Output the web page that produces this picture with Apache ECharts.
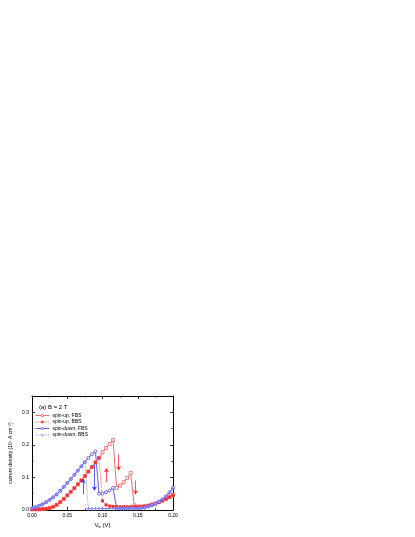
<!DOCTYPE html>
<html>
<head>
<meta charset="utf-8">
<script src="https://cdn.jsdelivr.net/npm/echarts@6/dist/echarts.min.js"></script>
<style>
  html, body { margin: 0; padding: 0; background: #fff; }
  #chart { width: 415px; height: 537px; }
</style>
</head>
<body>
<div id="chart"></div>
<script>
// bias voltage (V)
var xs = [0, 0.005, 0.01, 0.015, 0.02, 0.025, 0.03, 0.035, 0.04, 0.045,
          0.05, 0.055, 0.06, 0.065, 0.07, 0.075, 0.08, 0.085, 0.09, 0.095,
          0.1, 0.105, 0.11, 0.115, 0.12, 0.125, 0.13, 0.135, 0.14, 0.145,
          0.15, 0.155, 0.16, 0.165, 0.17, 0.175, 0.18, 0.185, 0.19, 0.195, 0.2];

// current density (10^7 A cm^-2)
var upFBS = [0.002, 0.002, 0.002, 0.003, 0.004, 0.006, 0.010, 0.016, 0.024, 0.034,
             0.045, 0.056, 0.067, 0.079, 0.091, 0.104, 0.118, 0.132, 0.146, 0.160,
             0.177, 0.190, 0.203, 0.215, 0.068, 0.075, 0.085, 0.098, 0.114, 0.014,
             0.011, 0.011, 0.012, 0.014, 0.017, 0.020, 0.024, 0.029, 0.034, 0.040, 0.047];
var upBBS = [0.002, 0.002, 0.002, 0.003, 0.004, 0.006, 0.010, 0.016, 0.024, 0.034,
             0.045, 0.056, 0.067, 0.079, 0.091, 0.104, 0.118, 0.132, 0.146, 0.160,
             0.028, 0.016, 0.012, 0.011, 0.010, 0.010, 0.010, 0.010, 0.010, 0.010,
             0.010, 0.010, 0.011, 0.013, 0.016, 0.019, 0.023, 0.028, 0.033, 0.039, 0.045];
var downFBS = [0.005, 0.009, 0.013, 0.018, 0.024, 0.031, 0.039, 0.048, 0.059, 0.071,
               0.083, 0.095, 0.108, 0.121, 0.134, 0.147, 0.160, 0.171, 0.180, 0.050,
               0.051, 0.055, 0.060, 0.068, 0.005, 0.005, 0.005, 0.005, 0.005, 0.005,
               0.005, 0.006, 0.008, 0.011, 0.015, 0.020, 0.026, 0.033, 0.042, 0.054, 0.068];
var downBBS = [0.005, 0.009, 0.013, 0.018, 0.024, 0.031, 0.039, 0.048, 0.059, 0.071,
               0.083, 0.095, 0.108, 0.121, 0.134, 0.147, 0.004, 0.004, 0.004, 0.004,
               0.004, 0.004, 0.004, 0.004, 0.004, 0.004, 0.004, 0.004, 0.004, 0.004,
               0.004, 0.005, 0.007, 0.010, 0.014, 0.019, 0.025, 0.032, 0.041, 0.052, 0.066];

var seriesNames = ['spin-up, FBS', 'spin-up, BBS', 'spin-down, FBS', 'spin-down, BBS'];

// arrows [x, yFrom, yTo]
var redArrows = [[0.1055, 0.085, 0.128], [0.123, 0.170, 0.122], [0.147, 0.090, 0.048]];
var blueArrows = [[0.0725, 0.048, 0.095], [0.0885, 0.140, 0.060]];

var RED = '#f04848', RED2 = '#ff2a2a', BLUE = '#3434f0', BLUE2 = '#7a7aff';
var FONT = 'Liberation Sans';

function pairs(ys) {
    return xs.map(function (x, i) { return [x, ys[i]]; });
}
function arrowLines(list) {
    return list.map(function (a) {
        return [{ coord: [a[0], a[1]] }, { coord: [a[0], a[2]] }];
    });
}

var chart = echarts.init(document.getElementById('chart'), null, { renderer: 'canvas' });

var axisBase = {
    axisLine: { show: true, onZero: false, lineStyle: { color: '#000', width: 1 } },
    axisTick: { show: true, inside: true, length: 3, lineStyle: { color: '#000', width: 0.8 } },
    minorTick: { show: true, splitNumber: 2, length: 1.5, lineStyle: { color: '#000', width: 0.8 } },
    splitLine: { show: false }
};

var option = {
    backgroundColor: '#fff',
    animation: false,
    title: {
        text: '(a) B = 2 T',
        left: 34, top: 399,
        textStyle: { fontFamily: FONT, fontSize: 6, fontWeight: 'normal', color: '#000' }
    },
    legend: {
        data: seriesNames,
        orient: 'vertical',
        left: 35, top: 413,
        itemWidth: 14, itemHeight: 3, itemGap: 1.5,
        padding: 0,
        lineStyle: { width: 0.8 },
        itemStyle: { borderWidth: 0.6 },
        textStyle: { fontFamily: FONT, fontSize: 5, color: '#000', padding: [0, 0, 0, -2] }
    },
    grid: { left: 32, top: 396, width: 141, height: 114 },
    xAxis: [
        Object.assign({}, axisBase, {
            type: 'value', min: 0, max: 0.2, interval: 0.05,
            name: '{n|V}{s|b}{n| (V)}', nameLocation: 'middle', nameGap: 11,
            nameTextStyle: { rich: {
                n: { fontFamily: FONT, fontSize: 6, color: '#000' },
                s: { fontFamily: FONT, fontSize: 4, color: '#000', padding: [4, 0, 0, 0] }
            } },
            axisLabel: { fontFamily: FONT, fontSize: 5, color: '#000', margin: 3,
                formatter: function (v) { return v.toFixed(2); } }
        }),
        Object.assign({}, axisBase, {
            type: 'value', min: 0, max: 0.2, interval: 0.05, position: 'top',
            axisLabel: { show: false }
        })
    ],
    yAxis: [
        Object.assign({}, axisBase, {
            type: 'value', min: 0, max: 0.35, interval: 0.1,
            name: 'current density (10⁷ A cm⁻²)', nameLocation: 'middle', nameGap: 19,
            nameTextStyle: { fontFamily: FONT, fontSize: 5, color: '#000' },
            axisLabel: { fontFamily: FONT, fontSize: 5, color: '#000', margin: 3, showMaxLabel: false,
                formatter: function (v) { return v.toFixed(1); } }
        }),
        Object.assign({}, axisBase, {
            type: 'value', min: 0, max: 0.35, interval: 0.1, position: 'right',
            axisLabel: { show: false }
        })
    ],
    series: [
        {
            name: seriesNames[2], type: 'line', data: pairs(downFBS),
            symbol: 'circle', symbolSize: 3,
            color: BLUE,
            itemStyle: { color: '#fff', borderColor: BLUE, borderWidth: 0.7 },
            lineStyle: { color: BLUE, width: 0.8 },
            markLine: {
                silent: true, symbol: ['none', 'arrow'], symbolSize: 4,
                label: { show: false },
                lineStyle: { color: BLUE, width: 0.8, type: 'solid' },
                data: arrowLines(blueArrows)
            }
        },
        {
            name: seriesNames[3], type: 'line', data: pairs(downBBS),
            symbol: 'path://M4,0H6V4H10V6H6V10H4V6H0V4H4Z', symbolSize: 4,
            color: BLUE2,
            itemStyle: { color: BLUE2 },
            lineStyle: { color: BLUE2, width: 0.8, type: 'dotted' }
        },
        {
            name: seriesNames[0], type: 'line', data: pairs(upFBS),
            symbol: 'rect', symbolSize: 3,
            color: RED,
            itemStyle: { color: '#fff', borderColor: RED, borderWidth: 0.7 },
            lineStyle: { color: RED, width: 0.8 },
            markLine: {
                silent: true, symbol: ['none', 'arrow'], symbolSize: 4,
                label: { show: false },
                lineStyle: { color: RED2, width: 0.8, type: 'solid' },
                data: arrowLines(redArrows)
            }
        },
        {
            name: seriesNames[1], type: 'line', data: pairs(upBBS),
            symbol: 'rect', symbolSize: 3,
            color: RED2,
            itemStyle: { color: RED2 },
            lineStyle: { color: RED2, width: 0.8, type: 'dotted' }
        }
    ]
};

// legend order follows the reference
option.series = [option.series[2], option.series[3], option.series[0], option.series[1]];

chart.setOption(option);
</script>
</body>
</html>
